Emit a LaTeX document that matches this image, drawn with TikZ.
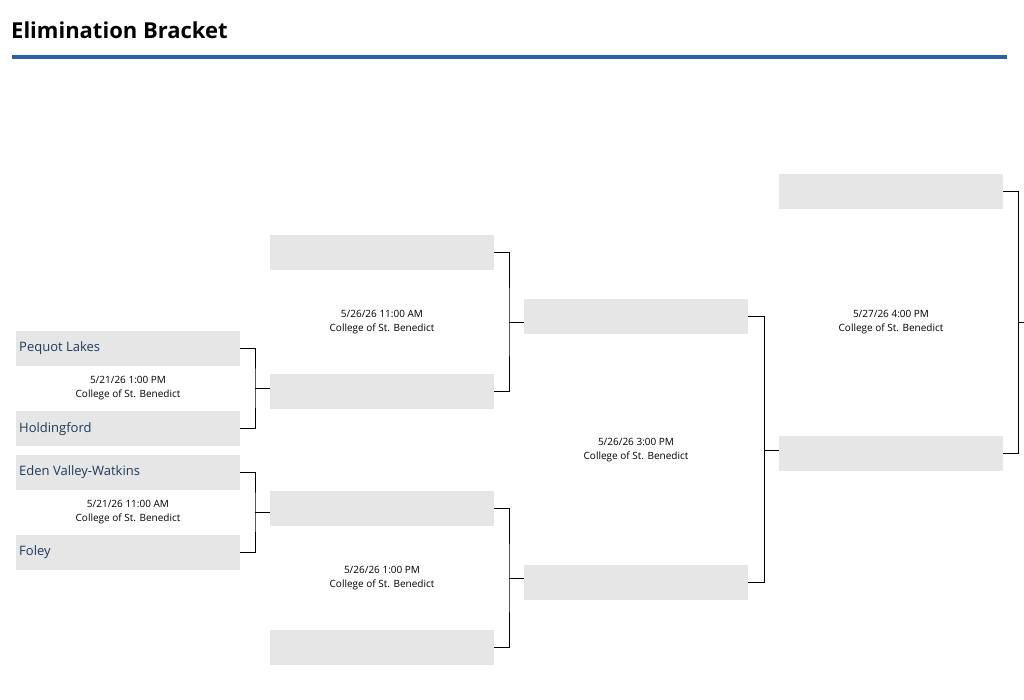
\documentclass[tikz,border=0pt]{standalone}
\usepackage{fontspec}
\setmainfont{Open Sans}
\definecolor{boxg}{HTML}{E6E6E6}
\definecolor{team}{HTML}{1E3A5C}
\definecolor{rule}{HTML}{2A64A0}
\begin{document}
\begin{tikzpicture}[x=1pt,y=-1pt,
  box/.style={fill=boxg,draw=none,minimum width=224pt,minimum height=35pt,inner sep=0pt,anchor=north west},
  tname/.style={font=\fontsize{13}{15}\selectfont,text=team,anchor=west,inner sep=0pt},
  info/.style={font=\fontsize{10}{14.5}\selectfont,align=center},
  con/.style={draw=black,line width=0.8pt}]
\useasboundingbox (0,0) rectangle (1024,700);
\node[anchor=west,inner sep=0pt,font=\fontsize{22}{26}\selectfont\bfseries] (title) at (11,30) {Elimination Bracket};
\fill[rule] (12,55) rectangle (1007,59);
% round 1
\node[box] (a1) at (16,331) {};
\node[box] (a2) at (16,411) {};
\node[box] (a3) at (16,455) {};
\node[box] (a4) at (16,535) {};
\node[tname] (t1) at (19,348) {Pequot Lakes};
\node[tname] (t2) at (19,429) {Holdingford};
\node[tname] (t3) at (19,472) {Eden Valley-Watkins};
\node[tname] (t4) at (19,552) {Foley};
% round 2
\node[box] (b1) at (270,235) {};
\node[box] (b2) at (270,374) {};
\node[box] (b3) at (270,491) {};
\node[box] (b4) at (270,630) {};
% round 3
\node[box] (c1) at (524,299) {};
\node[box] (c2) at (524,565) {};
% round 4
\node[box] (d1) at (779,174) {};
\node[box] (d2) at (779,436) {};
% infos
\node[info] (i1) at (128,388) {5/21/26 1:00 PM\\College of St. Benedict};
\node[info] (i2) at (128,512) {5/21/26 11:00 AM\\College of St. Benedict};
\node[info] (i3) at (382,322) {5/26/26 11:00 AM\\College of St. Benedict};
\node[info] (i4) at (382,578) {5/26/26 1:00 PM\\College of St. Benedict};
\node[info] (i5) at (636,450) {5/26/26 3:00 PM\\College of St. Benedict};
\node[info] (i6) at (891,322) {5/27/26 4:00 PM\\College of St. Benedict};
% connectors
\coordinate (j1) at (255,388);
\coordinate (j2) at (255,512);
\coordinate (j3) at (509,322);
\coordinate (j4) at (509,578);
\coordinate (j5) at (764,450);
\coordinate (j6) at (1018,322);
\coordinate (out) at (1024,322);
\draw[con] (a1.east) -| (j1) |- (a2.east); \draw[con] (j1) -- (b2.west |- j1);
\draw[con] (a3.east) -| (j2) |- (a4.east); \draw[con] (j2) -- (b3.west |- j2);
\draw[con] (b1.east) -| (j3) |- (b2.east); \draw[con] (j3) -- (c1.west |- j3);
\draw[con] (b3.east) -| (j4) |- (b4.east); \draw[con] (j4) -- (c2.west |- j4);
\draw[con] (c1.east) -| (j5) |- (c2.east); \draw[con] (j5) -- (d2.west |- j5);
\draw[con] (d1.east) -| (j6) |- (d2.east); \draw[con] (j6) -- (out);
\end{tikzpicture}
\end{document}
